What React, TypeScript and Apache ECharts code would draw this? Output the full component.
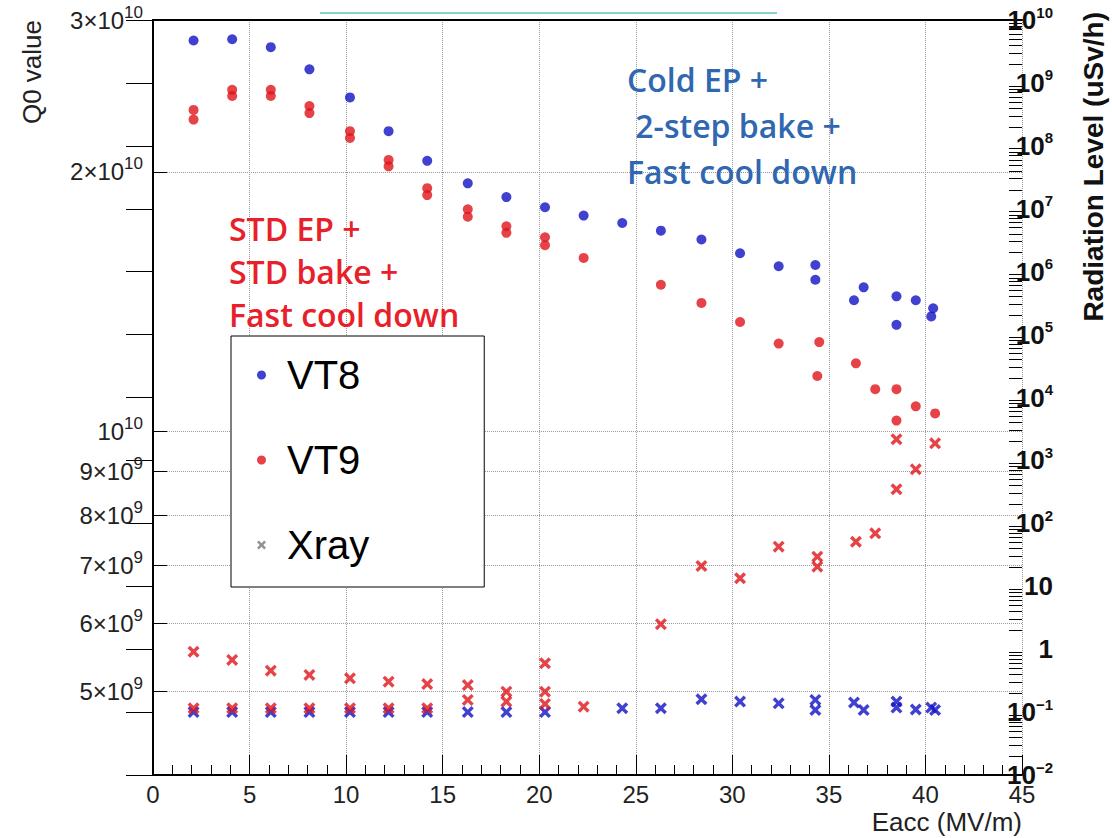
import React, { useEffect, useRef } from 'react';
import * as echarts from 'echarts';

// ---------- tick values ----------
const q0TickValues = [5e9, 6e9, 7e9, 8e9, 9e9, 1e10, 2e10, 3e10];
const radTickValues = [1e-2, 1e-1, 1, 10, 1e2, 1e3, 1e4, 1e5, 1e6, 1e7, 1e8, 1e9, 1e10];
const radMinorMultipliers = [2, 3, 4, 5, 6, 7, 8, 9];
const radDecades = [-2, -1, 0, 1, 2, 3, 4, 5, 6, 7, 8, 9];

// ---------- VT8 Q0 (blue dots) ----------
const vt8Eacc = [2.1, 4.1, 6.1, 8.1, 10.2, 12.2, 14.2, 16.3, 18.3, 20.3, 22.3, 24.3, 26.3, 28.4, 30.4, 32.4, 34.3, 34.3, 36.3, 36.8, 38.5, 38.5, 39.5, 40.4, 40.3];
const vt8Q0 = [2.84e10, 2.85e10, 2.79e10, 2.63e10, 2.44e10, 2.23e10, 2.06e10, 1.94e10, 1.87e10, 1.82e10, 1.78e10, 1.745e10, 1.71e10, 1.67e10, 1.61e10, 1.555e10, 1.56e10, 1.5e10, 1.42e10, 1.47e10, 1.435e10, 1.33e10, 1.42e10, 1.39e10, 1.36e10];

// ---------- VT9 Q0 (red dots) ----------
const vt9Eacc = [2.1, 2.1, 4.1, 4.1, 6.1, 6.1, 8.1, 8.1, 10.2, 10.2, 12.2, 12.2, 14.2, 14.2, 16.3, 16.3, 18.3, 18.3, 20.3, 20.3, 22.3, 26.3, 28.4, 30.4, 32.4, 34.5, 34.4, 36.4, 37.4, 38.5, 38.5, 39.5, 40.5];
const vt9Q0 = [2.36e10, 2.3e10, 2.49e10, 2.45e10, 2.49e10, 2.45e10, 2.385e10, 2.34e10, 2.23e10, 2.19e10, 2.065e10, 2.03e10, 1.915e10, 1.88e10, 1.81e10, 1.775e10, 1.73e10, 1.7e10, 1.68e10, 1.645e10, 1.59e10, 1.48e10, 1.41e10, 1.34e10, 1.265e10, 1.27e10, 1.16e10, 1.2e10, 1.12e10, 1.12e10, 1.03e10, 1.07e10, 1.05e10];

// ---------- VT8 Xray (blue crosses) ----------
const vt8XrayEacc = [2.1, 4.1, 6.1, 8.1, 10.2, 12.2, 14.2, 16.3, 18.3, 20.3, 24.3, 26.3, 28.4, 30.4, 32.4, 34.3, 34.3, 36.3, 36.8, 38.5, 38.5, 39.5, 40.3, 40.5];
const vt8XrayDose = [0.1, 0.1, 0.1, 0.1, 0.1, 0.1, 0.1, 0.1, 0.1, 0.1, 0.115, 0.115, 0.16, 0.147, 0.138, 0.156, 0.108, 0.142, 0.108, 0.147, 0.118, 0.11, 0.118, 0.108];

// ---------- VT9 Xray (red crosses) ----------
const vt9XrayEacc = [2.1, 4.1, 6.1, 8.1, 10.2, 12.2, 14.2, 16.3, 18.3, 20.3, 20.3, 2.1, 4.1, 6.1, 8.1, 10.2, 12.2, 14.2, 16.3, 18.3, 20.3, 22.3, 26.3, 28.4, 30.4, 32.4, 34.4, 34.4, 36.4, 37.4, 38.5, 38.5, 39.5, 40.5];
const vt9XrayDose = [0.91, 0.674, 0.455, 0.389, 0.344, 0.304, 0.279, 0.269, 0.211, 0.597, 0.211, 0.115, 0.115, 0.115, 0.115, 0.115, 0.115, 0.115, 0.156, 0.147, 0.135, 0.122, 2.5, 21, 13.4, 42.6, 29.5, 20.5, 51, 69.5, 2170, 348, 723, 1870];

const zip = (xs: number[], ys: number[]) => xs.map((x, i) => [x, ys[i]]);

const CROSS = 'path://M0,2L2,0L5,3L8,0L10,2L7,5L10,8L8,10L5,7L2,10L0,8L3,5Z';
const FONT = '"Liberation Sans", Arial, Helvetica, sans-serif';
const BLUE = '#1212c4';
const RED = '#e0141a';

const leftFmt = (v: number) => {
  const e = Math.floor(Math.log10(v) + 1e-6);
  const m = Math.round(v / Math.pow(10, e));
  return m === 1 ? `{b|10}{s|${e}}` : `{b|${m}×10}{s|${e}}`;
};
const rightFmt = (v: number) => {
  const e = Math.round(Math.log10(v));
  if (e === 0) return '{b|1}';
  if (e === 1) return '{b|10}';
  return `{b|10}{s|${e < 0 ? '\u2212' + -e : e}}`;
};

export default function App() {
  const ref = useRef<HTMLDivElement>(null);
  useEffect(() => {
    if (!ref.current) return;
    const chart = echarts.init(ref.current, undefined, { renderer: 'svg' });
    const minorVals: number[] = [];
    radDecades.forEach((d) => radMinorMultipliers.forEach((m) => minorVals.push(m * Math.pow(10, d))));

    const option: any = {
      animation: false,
      backgroundColor: '#fff',
      grid: { left: 153, right: 90, top: 20, bottom: 63, containLabel: false, outerBoundsMode: 'none' },
      xAxis: [
        {
          type: 'value', min: 0, max: 45, interval: 5, position: 'bottom',
          axisLine: { show: true, onZero: false, lineStyle: { color: '#000', width: 2 } },
          axisTick: { show: true, inside: true, length: 20, lineStyle: { color: '#000', width: 1 } },
          minorTick: { show: true, splitNumber: 5, length: 10, lineStyle: { color: '#000', width: 1 } },
          splitLine: { show: true, lineStyle: { color: '#9a9a9a', type: 'dotted', width: 1 } },
          axisLabel: { fontSize: 24, color: '#222', margin: 7, fontFamily: FONT },
          name: 'Eacc (MV/m)', nameLocation: 'end', nameGap: 0, nameMoveOverlap: false,
          nameTextStyle: { fontSize: 26, color: '#222', fontFamily: FONT, align: 'right', verticalAlign: 'top', padding: [34, 0, 0, 0] },
        },
        {
          type: 'value', min: 0, max: 45, position: 'top',
          axisLine: { show: true, onZero: false, lineStyle: { color: '#000', width: 2 } },
          axisTick: { show: false }, axisLabel: { show: false }, splitLine: { show: false },
        },
      ],
      yAxis: [
        {
          type: 'log', logBase: 10, min: 4e9, max: 3e10, position: 'left',
          axisLine: { show: true, lineStyle: { color: '#000', width: 2 } },
          axisTick: { show: true, inside: true, length: 14, customValues: q0TickValues, lineStyle: { color: '#000' } },
          axisLabel: {
            customValues: q0TickValues, formatter: leftFmt, margin: 10, color: '#222', fontFamily: FONT,
            rich: {
              b: { fontSize: 24, fontFamily: FONT, color: '#222' },
              s: { fontSize: 17, fontFamily: FONT, color: '#222', padding: [0, 0, 16, 0] },
            },
          },
          splitLine: { show: true, lineStyle: { color: '#9a9a9a', type: 'dotted', width: 1 } },
          minorTick: { show: false },
          name: 'Q0 value', nameLocation: 'end', nameGap: 0, nameRotate: 90, nameMoveOverlap: false,
          nameTextStyle: { fontSize: 26, color: '#222', fontFamily: FONT, align: 'right', verticalAlign: 'bottom', padding: [0, 0, 108, 0] },
        },
        {
          type: 'log', logBase: 10, min: 0.01, max: 1e10, position: 'right',
          axisLine: { show: true, lineStyle: { color: '#000', width: 2 } },
          axisTick: { show: true, inside: true, length: 27, customValues: radTickValues, lineStyle: { color: '#000' } },
          axisLabel: {
            customValues: radTickValues, formatter: rightFmt, margin: 31, align: 'right', color: '#111', fontFamily: FONT,
            rich: {
              b: { fontSize: 26, fontWeight: 'bold', fontFamily: FONT, color: '#111' },
              s: { fontSize: 15, fontWeight: 'bold', fontFamily: FONT, color: '#111', padding: [0, 0, 16, 0] },
            },
          },
          splitLine: { show: false },
          minorTick: { show: false },
        },
        {
          type: 'log', logBase: 10, min: 0.01, max: 1e10, position: 'right',
          axisLine: { show: false },
          axisTick: { show: true, inside: true, length: 13, customValues: minorVals, lineStyle: { color: '#000' } },
          axisLabel: { show: false },
          splitLine: { show: false },
        },
      ],
      legend: {
        data: ['VT8', 'VT9', 'Xray'],
        orient: 'vertical', left: 231, top: 336,
        itemWidth: 41, itemHeight: 9, itemGap: 45,
        padding: [19, 115, 22, 26],
        borderColor: '#000', borderWidth: 1, backgroundColor: '#fff',
        selectedMode: false,
        textStyle: { fontSize: 40, color: '#000', fontFamily: FONT, lineHeight: 40 },
      },
      series: [
        {
          name: 'VT8', type: 'scatter', xAxisIndex: 0, yAxisIndex: 0, symbol: 'circle', symbolSize: 10,
          itemStyle: { color: BLUE }, data: zip(vt8Eacc, vt8Q0),
        },
        {
          name: 'VT9', type: 'scatter', xAxisIndex: 0, yAxisIndex: 0, symbol: 'circle', symbolSize: 10,
          itemStyle: { color: RED }, data: zip(vt9Eacc, vt9Q0),
        },
        {
          name: 'Xray', type: 'scatter', xAxisIndex: 0, yAxisIndex: 1, symbol: CROSS, symbolSize: 9,
          itemStyle: { color: '#777' }, data: [],
        },
        {
          name: 'VT8 Xray', type: 'scatter', xAxisIndex: 0, yAxisIndex: 1, symbol: CROSS, symbolSize: 12,
          itemStyle: { color: BLUE }, data: zip(vt8XrayEacc, vt8XrayDose),
        },
        {
          name: 'VT9 Xray', type: 'scatter', xAxisIndex: 0, yAxisIndex: 1, symbol: CROSS, symbolSize: 12,
          itemStyle: { color: RED }, data: zip(vt9XrayEacc, vt9XrayDose),
        },
      ],
      graphic: [
        { type: 'line', shape: { x1: 320, y1: 13, x2: 777, y2: 13 }, style: { stroke: '#86d3cb', lineWidth: 2 } },
        {
          type: 'text', x: 1093, y: 12, rotation: Math.PI / 2, z: 10,
          style: { text: 'Radiation Level (uSv/h)', fill: '#111', fontSize: 28, fontWeight: 'bold', fontFamily: FONT, align: 'right', verticalAlign: 'middle' },
        },
        {
          type: 'text', x: 229, y: 207, z: 10,
          style: { text: 'STD EP +\nSTD bake +\nFast cool down', fill: '#e8202a', fontSize: 32, fontWeight: 600, fontFamily: '"Open Sans", sans-serif', lineHeight: 43, verticalAlign: 'top' },
        },
        {
          type: 'text', x: 627, y: 56, z: 10,
          style: { text: 'Cold EP +\n 2-step bake +\nFast cool down', fill: '#2f67b1', fontSize: 32, fontWeight: 600, fontFamily: '"Open Sans", sans-serif', lineHeight: 46, verticalAlign: 'top' },
        },
      ],
    };
    chart.setOption(option);
    return () => chart.dispose();
  }, []);
  return <div ref={ref} style={{ position: 'fixed', left: 0, top: 0, width: 1112, height: 838, background: '#fff' }} />;
}
